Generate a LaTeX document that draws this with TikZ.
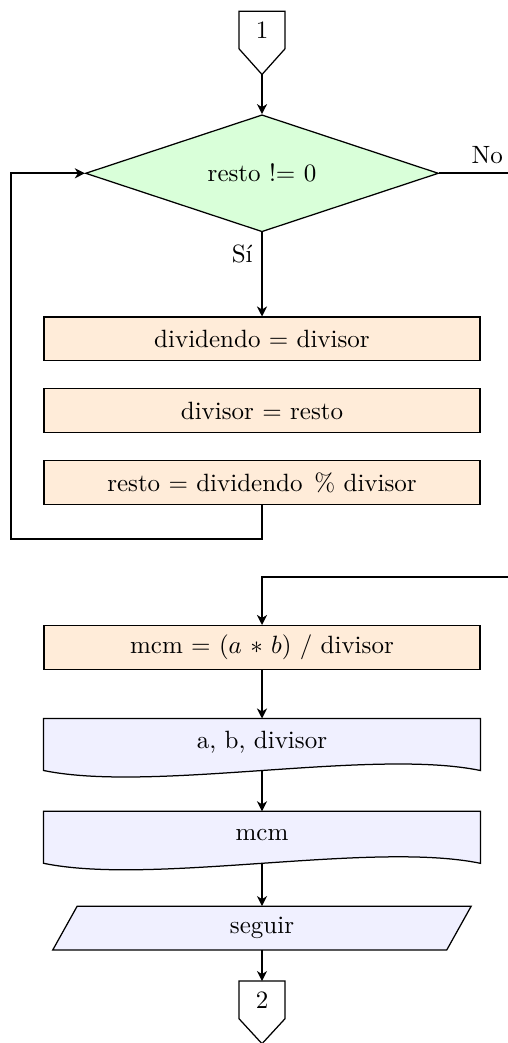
\documentclass[tikz,border=0pt]{standalone}
\usetikzlibrary{arrows.meta,calc,backgrounds,shapes.geometric}
\begin{document}
\begin{tikzpicture}[x=0.4pt,y=-0.4pt,
  proc/.style={rectangle, draw, fill=orange!15, minimum width=174.3pt, minimum height=17.5pt, inner sep=0pt, line width=0.5pt},
  dec/.style={diamond, draw, fill=green!15, aspect=3, minimum width=141.2pt, minimum height=46.8pt, inner sep=0pt, line width=0.5pt},
  docnode/.style={rectangle, minimum width=174.3pt, minimum height=20.4pt, inner sep=0pt, text height=4pt, text depth=1.2pt},
  shapeline/.style={draw, line width=0.5pt},
  ionode/.style={rectangle, minimum width=157.2pt, minimum height=17.1pt, inner sep=0pt},
  connnode/.style={rectangle, minimum width=18pt, minimum height=14.64pt, inner sep=0pt},
  arr/.style={thick, -{Stealth[length=4pt,width=4pt,inset=1.2pt]}},
  plain/.style={thick}]
\useasboundingbox (0,0) rectangle (507,1043);

% nodes
\node[connnode] (c1) at (262,30) {1};
\coordinate (c1tip) at ($(c1.south)+(0,25.7)$);
\node[dec] (d) at (262,173.3) {resto != 0};
\node[proc] (b1) at (262,339) {dividendo = divisor};
\node[proc] (b2) at (262,410.7) {divisor = resto};
\node[proc] (b3) at (262,482.5) {resto = dividendo\hspace{1.4pt} \% divisor};
\node[proc] (b4) at (262,647.5) {mcm = ($a$ $*$ $b$) / divisor};
\node[docnode] (o1) at (262,744.5) {a, b, divisor};
\node[docnode] (o2) at (262,837.3) {mcm};
\node[ionode] (p) at (262,928) {seguir};
\node[connnode] (c2) at (262,999.9) {2};

\coordinate (lp) at (10.7,539.3);
\coordinate (noR) at (512,173.3);
\coordinate (noR2) at (512,576.5);

% background shapes
\begin{scope}[on background layer]
  \filldraw[shapeline, fill=white] (c1.north west) -- (c1.north east) -- (c1.south east) -- (c1tip) -- (c1.south west) -- cycle;
  \filldraw[shapeline, fill=white] (c2.north west) -- (c2.north east) -- (c2.south east) -- ($(c2.south)+(0,25)$) -- (c2.south west) -- cycle;
  \foreach \n in {o1,o2}{
    \filldraw[shapeline, fill=blue!6] (\n.south west) -- (\n.north west) -- (\n.north east) -- (\n.south east)
      .. controls ($(\n.south east)+(-109,-22.5)$) and ($(\n.south west)+(109,22.5)$) .. (\n.south west) -- cycle;
  }
  \filldraw[shapeline, fill=blue!6] ($(p.north west)+(12.2,0)$) -- ($(p.north east)+(12.2,0)$)
     -- ($(p.south east)+(-12.2,0)$) -- ($(p.south west)+(-12.2,0)$) -- cycle;
\end{scope}

% connectors
\draw[arr] (c1tip) -- (d.north);
\draw[arr] (d.south) -- node[pos=0.26, left] {Sí} (b1.north);
\draw[arr] (b3.south) |- (lp) |- (d.west);
\draw[plain] (d.east) -- node[pos=0.66, above] {No} (noR);
\draw[arr] (noR2) -| (b4.north);
\draw[arr] (b4.south) -- (o1.north);
\draw[arr] (o1.south) -- (o2.north);
\draw[arr] (o2.south) -- (p.north);
\draw[arr] (p.south) -- (c2.north);
\end{tikzpicture}
\end{document}
